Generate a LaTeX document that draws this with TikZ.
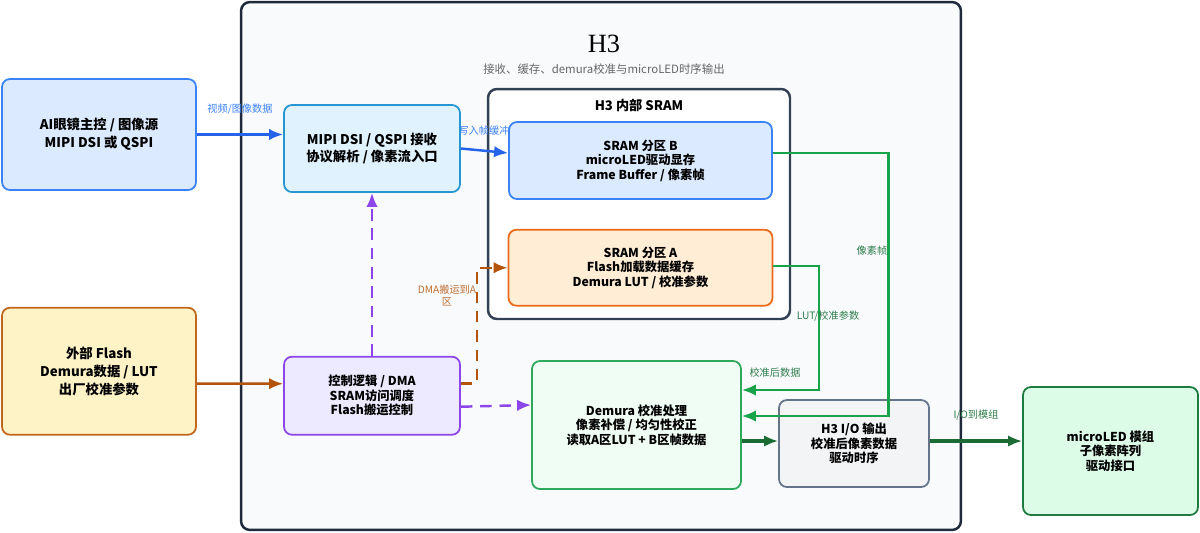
\documentclass[tikz,border=0pt]{standalone}
\usepackage{fontspec}
\setmainfont{Noto Sans CJK SC}
\newfontfamily\titlefont{Liberation Serif}
\usepackage{xcolor}
\usepackage{tikz}
\usetikzlibrary{shapes, positioning, calc, arrows.meta}

\definecolor{chipbg}{HTML}{F8FAFC}
\definecolor{chipline}{HTML}{1E293B}
\definecolor{sramline}{HTML}{334155}
\definecolor{bluefill}{HTML}{DBEAFE}
\definecolor{blueline}{HTML}{3B82F6}
\definecolor{skyfill}{HTML}{E0F2FE}
\definecolor{skyline}{HTML}{2596D1}
\definecolor{orangefill}{HTML}{FFEDD5}
\definecolor{orangeline}{HTML}{EA6A1A}
\definecolor{flashfill}{HTML}{FEF3C7}
\definecolor{flashline}{HTML}{C2661C}
\definecolor{violetfill}{HTML}{EDE9FE}
\definecolor{violetline}{HTML}{8B45E8}
\definecolor{mintfill}{HTML}{F0FDF4}
\definecolor{mintline}{HTML}{2EA85A}
\definecolor{grayfill}{HTML}{F3F4F6}
\definecolor{grayline}{HTML}{64748B}
\definecolor{ledfill}{HTML}{DCFCE7}
\definecolor{ledline}{HTML}{1F7A3F}
\definecolor{arrowblue}{HTML}{2563EB}
\definecolor{arrowbrown}{HTML}{B4540B}
\definecolor{arrowgreen}{HTML}{16A34A}
\definecolor{arrowdark}{HTML}{1A6B34}
\definecolor{labelgreen}{HTML}{2F7D4A}

\begin{document}
\begin{tikzpicture}[
    x = 0.02cm, y = -0.02cm,
    > = {Latex[length = 8pt, width = 6.5pt]},
    block/.style = {
      rectangle, rounded corners = 4.5pt, draw, line width = 1pt,
      align = center, inner sep = 2pt,
      font = \bfseries\fontsize{7}{8.3}\selectfont
    },
    bigblock/.style = {
      block, font = \bfseries\fontsize{7.6}{10.2}\selectfont
    },
    frame/.style = {
      rectangle, rounded corners = 5pt, draw, line width = 1.4pt
    },
    path/.style = {
      arrows = ->, line width = 1.4pt
    },
    dashpath/.style = {
      path, dash pattern = on 6.5pt off 4.5pt
    },
    lbl/.style = {
      inner sep = 1pt, align = center, font = \fontsize{5.8}{6.8}\selectfont
    },
    ]
    \useasboundingbox (0,0) rectangle (1200,532);

    % draw H3 chip and SRAM frames
    \node  [frame, draw = chipline, fill = chipbg, minimum width = 14.4cm, minimum height = 10.56cm]  (h3chip)  at  (601,266)  {};
    \node  [font = \titlefont\fontsize{15}{18}\selectfont]  (h3title)  at  (604,44)  {H3};
    \node  [font = \fontsize{6.5}{8}\selectfont, text = black!60]  (h3sub)  at  (604,69)  {接收、缓存、demura校准与microLED时序输出};
    \node  [frame, draw = sramline, fill = white, minimum width = 6.04cm, minimum height = 4.6cm]  (sram)  at  (639,204)  {};
    \node  [font = \bfseries\fontsize{7.5}{9}\selectfont]  (sramtitle)  at  (639,105)  {H3 内部 SRAM};

    % draw blocks
    \node  [bigblock, draw = blueline, fill = bluefill, minimum width = 3.88cm, minimum height = 2.22cm]  (ai)  at  (99,134.5)  {AI眼镜主控 / 图像源\\MIPI DSI 或 QSPI};
    \node  [bigblock, draw = flashline, fill = flashfill, minimum width = 3.88cm, minimum height = 2.54cm]  (flash)  [below = 2.32cm of ai]  {外部 Flash\\Demura数据 / LUT\\出厂校准参数};
    \node  [bigblock, draw = skyline, fill = skyfill, minimum width = 3.52cm, minimum height = 1.74cm]  (mipi)  at  (372,148.5)  {MIPI DSI / QSPI 接收\\协议解析 / 像素流入口};
    \node  [block, draw = violetline, fill = violetfill, minimum width = 3.52cm, minimum height = 1.56cm]  (ctrl)  [below = 3.26cm of mipi]  {控制逻辑 / DMA\\SRAM访问调度\\Flash搬运控制};
    \node  [block, draw = blueline, fill = bluefill, minimum width = 5.26cm, minimum height = 1.54cm]  (sramb)  at  (640.5,160.5)  {SRAM 分区 B\\microLED驱动显存\\Frame Buffer / 像素帧};
    \node  [block, draw = orangeline, fill = orangefill, minimum width = 5.28cm, minimum height = 1.52cm]  (srama)  [below = 0.58cm of sramb]  {SRAM 分区 A\\Flash加载数据缓存\\Demura LUT / 校准参数};
    \node  [block, draw = mintline, fill = mintfill, minimum width = 4.18cm, minimum height = 2.56cm]  (demura)  at  (636.5,425)  {Demura 校准处理\\像素补偿 / 均匀性校正\\读取A区LUT + B区帧数据};
    \node  [block, draw = grayline, fill = grayfill, minimum width = 3cm, minimum height = 1.74cm]  (h3io)  at  (854,443.5)  {H3 I/O 输出\\校准后像素数据\\驱动时序};
    \node  [block, draw = ledline, fill = ledfill, minimum width = 3.5cm, minimum height = 2.56cm]  (led)  at  (1110.5,451)  {microLED 模组\\子像素阵列\\驱动接口};

    % draw paths
    \draw  [path, arrowblue]  (ai.east)  -- node  [lbl, above = 10pt, text = blueline]  {视频/图像数据}  (ai.east -| mipi.west);
    \draw  [path, arrowblue]  (mipi.east)  -- ($(sramb.west)+(0,-7.5)$);
    \node  [lbl, text = blueline]  (writelbl)  at  (484,131)  {写入帧缓冲};
    \draw  [path, arrowbrown]  ($(flash.east)+(0,12.5)$)  -- ($(ctrl.west)+(0,-12)$);
    \draw  [dashpath, arrowbrown]  ($(ctrl.east)+(0,-12)$)  -- ++(16,0)  |- (srama.west);
    \node  [lbl, text = arrowbrown!85]  (dmalbl)  at  (447,295)  {DMA搬运到A\\区};
    \draw  [dashpath, violetline]  (ctrl.north)  -- (mipi.south);
    \draw  [dashpath, violetline]  ($(ctrl.east)+(0,11)$)  -- ($(demura.west)+(0,-20)$);
    \draw  [path, arrowgreen]  ($(srama.east)+(0,-2)$)  -- ++(45.5,0)  |- ($(demura.east)+(0,-35)$);
    \node  [lbl, text = labelgreen]  (lutlbl)  at  (828,316)  {LUT/校准参数};
    \node  [lbl, text = labelgreen]  (calilbl)  at  (775,373)  {校准后数据};
    \draw  [path, arrowgreen]  ($(sramb.east)+(0,-7.5)$)  -- ++(115.5,0)  |- ($(demura.east)+(0,-9)$);
    \node  [lbl, text = labelgreen]  (pixlbl)  at  (872,251)  {像素帧};
    \draw  [path, arrowdark, line width = 1.8pt]  ($(demura.east)+(0,16)$)  -- ($(h3io.west)+(0,-2.5)$);
    \draw  [path, arrowdark, line width = 1.8pt]  ($(h3io.east)+(0,-2.5)$)  -- node  [lbl, above = 10pt, text = labelgreen]  {I/O到模组}  ($(led.west)+(0,-10)$);
\end{tikzpicture}
\end{document}
